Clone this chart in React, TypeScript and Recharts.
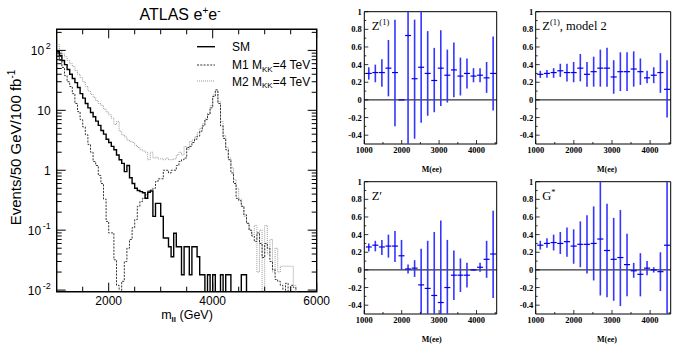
import React from 'react';
import {
  ComposedChart, Line, XAxis, YAxis, ReferenceArea, ReferenceLine,
  ScatterChart, Scatter, ErrorBar,
} from 'recharts';

// ---------------- Left panel: invariant-mass histograms (50 GeV bins) ----------------
const massEdges = [
  1000, 1050, 1100, 1150, 1200, 1250, 1300, 1350, 1400, 1450,
  1500, 1550, 1600, 1650, 1700, 1750, 1800, 1850, 1900, 1950,
  2000, 2050, 2100, 2150, 2200, 2250, 2300, 2350, 2400, 2450,
  2500, 2550, 2600, 2650, 2700, 2750, 2800, 2850, 2900, 2950,
  3000, 3050, 3100, 3150, 3200, 3250, 3300, 3350, 3400, 3450,
  3500, 3550, 3600, 3650, 3700, 3750, 3800, 3850, 3900, 3950,
  4000, 4050, 4100, 4150, 4200, 4250, 4300, 4350, 4400, 4450,
  4500, 4550, 4600, 4650, 4700, 4750, 4800, 4850, 4900, 4950,
  5000, 5050, 5100, 5150, 5200, 5250, 5300, 5350, 5400, 5450,
  5500, 5550, 5600, 5650,
];

const smEvents = [
  95, 82, 68, 58, 48, 40, 34, 29, 24, 19,
  16, 13, 11, 9.2, 7.8, 6.6, 5.6, 4.6, 4.0, 3.3,
  2.9, 2.5, 2.2, 1.8, 1.5, 1.3, 0.95, 1.2, 0.75, 0.6,
  0.5, 0.46, 0.44, 0.42, 0.34, 0.43, 0.45, 0.17, 0.28, 0.28,
  0.17, 0.074, 0.074, 0.053, 0.036, 0.089, 0.053, 0.053, 0.018, 0.053,
  0.053, 0.018, 0.053, 0.053, 0.036, 0.018, 0.018, 0, 0.018, 0,
  0.018, 0, 0, 0.018, 0, 0.018, 0.018, 0, 0, 0,
  0, 0.018, 0.018, 0, 0, 0, 0, 0, 0, 0,
  0, 0, 0, 0, 0, 0, 0, 0, 0, 0,
  0, 0, 0,
];

const m1Events = [
  80, 68, 52, 38, 30, 25, 19, 13, 9.5, 7.0,
  5.3, 3.9, 2.7, 2.0, 1.4, 1.2, 0.82, 0.6, 0.33, 0.14,
  0.09, 0.09, 0.032, 0.012, 0, 0.014, 0.03, 0.05, 0.07, 0.11,
  0.15, 0.25, 0.3, 0.34, 0.39, 0.45, 0.47, 0.5, 0.65, 0.72,
  0.72, 1.0, 1.0, 0.9, 1.0, 1.0, 1.2, 1.4, 1.5, 1.6,
  2.4, 2.5, 2.9, 3.3, 3.7, 4.5, 5.5, 7.0, 8.5, 11,
  17, 22, 13, 5.5, 3.4, 2.2, 1.5, 0.9, 0.6, 0.34,
  0.31, 0.25, 0.18, 0.13, 0.1, 0.08, 0.065, 0.09, 0.06, 0.035,
  0.06, 0.05, 0.03, 0.022, 0.015, 0.014, 0.012, 0.009, 0.013, 0.008,
  0.012, 0.011, 0,
];

const m2Events = [
  125, 100, 88, 78, 68, 60, 54, 46, 40, 35,
  30, 25, 21, 18.5, 16.5, 14.5, 13, 12, 10.5, 9.4,
  8.4, 7.4, 5.8, 6.5, 4.5, 3.9, 3.6, 3.2, 3.0, 2.9,
  2.6, 2.4, 2.2, 2.1, 2.0, 1.5, 2.0, 1.6, 1.65, 1.55,
  1.55, 1.5, 1.6, 1.5, 1.5, 1.55, 1.8, 2.0, 1.8, 2.5,
  2.2, 3.0, 3.2, 3.6, 4.2, 5.0, 6.0, 7.2, 9.0, 12,
  18, 21, 14, 6.5, 3.8, 2.4, 1.6, 1.1, 0.7, 0.5,
  0.33, 0.25, 0.17, 0.13, 0.1, 0.085, 0.12, 0.02, 0.1, 0,
  0.12, 0.04, 0.07, 0.02, 0.05, 0.02, 0.025, 0.025, 0.025, 0.025,
  0.025, 0.012, 0,
];

const massMajorTicks = [2000, 4000, 6000];
const massMinorTicks = [1500, 2500, 3000, 3500, 4500, 5000, 5500];
const eventMajorTicks = [0.01, 0.1, 1, 10, 100];
const eventMinorTicks = [
  0.02, 0.03, 0.04, 0.05, 0.06, 0.07, 0.08, 0.09,
  0.2, 0.3, 0.4, 0.5, 0.6, 0.7, 0.8, 0.9,
  2, 3, 4, 5, 6, 7, 8, 9,
  20, 30, 40, 50, 60, 70, 80, 90,
  200,
];
const eventTickLabels: Record<string, [string, string]> = {
  '100': ['10', '2'],
  '10': ['10', ''],
  '1': ['1', ''],
  '0.1': ['10', '-1'],
  '0.01': ['10', '-2'],
};

// ---------------- Right panels: asymmetry vs M(ee) ----------------
const asymMass = [1120, 1295, 1470, 1645, 1820, 1995, 2170, 2345, 2520, 2695,
  2870, 3045, 3220, 3395, 3570, 3745, 3920, 4095, 4270, 4445];
const massBinHalfWidth = 80;

const z1Center = [0.30, 0.31, 0.31, 0.36, 0.31, 0.0, 0.73, 0.24, 0.37, 0.30,
  0.22, 0.36, 0.28, 0.34, 0.27, 0.30, 0.27, 0.28, 0.25, 0.30];
const z1Low = [0.23, 0.20, 0.15, 0.04, -0.30, 0.0, -0.6, -0.44, -0.26, -0.18,
  -0.14, -0.07, -0.03, 0.03, 0.05, 0.13, 0.20, 0.20, 0.08, -0.12];
const z1High = [0.37, 0.40, 0.46, 0.68, 0.91, 0.0, 1.1, 0.91, 1.1, 0.78,
  0.59, 0.79, 0.57, 0.65, 0.48, 0.47, 0.36, 0.36, 0.43, 0.72];

const z1m2Center = [0.29, 0.30, 0.31, 0.33, 0.31, 0.31, 0.36, 0.29, 0.32, 0.36,
  0.36, 0.26, 0.32, 0.32, 0.35, 0.32, 0.25, 0.28, 0.31, 0.12];
const z1m2Low = [0.25, 0.25, 0.25, 0.26, 0.21, 0.20, 0.21, 0.15, 0.15, 0.15,
  0.15, 0.07, 0.10, 0.10, 0.15, 0.17, 0.19, 0.19, 0.08, -0.20];
const z1m2High = [0.33, 0.34, 0.36, 0.41, 0.41, 0.43, 0.52, 0.43, 0.49, 0.57,
  0.59, 0.45, 0.54, 0.54, 0.55, 0.47, 0.33, 0.37, 0.53, 0.45];

const zpCenter = [0.26, 0.28, 0.26, 0.27, 0.27, 0.16, 0.01, 0.02, -0.17, -0.21,
  -0.29, -0.37, -0.20, -0.06, -0.06, -0.06, 0.0, 0.03, 0.12, 0.18];
const zpLow = [0.21, 0.21, 0.17, 0.14, 0.09, 0.0, -0.04, -0.08, -0.6, -0.6,
  -0.6, -0.6, -0.6, -0.34, -0.25, -0.20, -0.01, -0.02, -0.09, -0.32];
const zpHigh = [0.30, 0.33, 0.34, 0.40, 0.44, 0.34, 0.06, 0.11, 0.24, 0.33,
  0.43, 0.56, 0.34, 0.22, 0.13, 0.08, 0.01, 0.08, 0.33, 0.67];

const gCenter = [0.28, 0.30, 0.31, 0.30, 0.32, 0.27, 0.29, 0.29, 0.30, 0.35,
  0.22, 0.12, 0.14, 0.06, -0.01, -0.05, 0.02, 0.0, -0.02, 0.28];
const gLow = [0.23, 0.25, 0.22, 0.18, 0.15, 0.07, 0.03, -0.04, -0.12, -0.29,
  -0.31, -0.35, -0.41, -0.30, -0.09, -0.30, -0.06, -0.03, -0.24, -0.6];
const gHigh = [0.33, 0.36, 0.40, 0.43, 0.48, 0.46, 0.55, 0.62, 0.72, 1.1,
  0.75, 0.59, 0.68, 0.41, 0.08, 0.19, 0.10, 0.03, 0.20, 1.1];

const asymMajorTicks = [-0.4, -0.2, 0, 0.2, 0.4, 0.6, 0.8, 1];
const asymTickLabels = ['-0.4', '-0.2', '0', '0.2', '0.4', '0.6', '0.8', '1'];
const asymMinorTicks = [-0.3, -0.1, 0.1, 0.3, 0.5, 0.7, 0.9];
const panelMassMajor = [1000, 2000, 3000, 4000];
const panelMassMinor = [1500, 2500, 3500, 4500];

// ---------------- styling / layout ----------------
const NARROW = "'Liberation Sans Narrow', 'Liberation Sans', Arial, sans-serif";
const SANS = "'Liberation Sans', Arial, sans-serif";
const SERIF = "'Liberation Serif', 'Times New Roman', serif";
const TM = 6;

const EMPTY = 1e-4;
const pos = (v: number) => (v > 0 ? v : EMPTY);
const histData = massEdges.map((m, i) => {
  const j = Math.min(i, smEvents.length - 1);
  return { m, sm: pos(smEvents[j]), m1: pos(m1Events[j]), m2: pos(m2Events[j]) };
});

const L = { width: 330, height: 330, mTop: 29.3, mRight: 13.3, yW: 56.7, xH: 38.3 };
const LPW = L.width - L.yW - L.mRight;
const LPH = L.height - L.mTop - L.xH;
const Y_DOMAIN: [number, number] = [0.0094, 225];

const LeftXTick = (p: any) => {
  const { x, y, payload } = p;
  const axisY = y - TM;
  const v = payload.value;
  const major = massMajorTicks.includes(v);
  const len = major ? 9 : 5;
  return (
    <g>
      <line x1={x} x2={x} y1={axisY} y2={axisY - len} stroke="#000" strokeWidth={1} />
      <line x1={x} x2={x} y1={axisY - LPH} y2={axisY - LPH + len} stroke="#000" strokeWidth={1} />
      {major && (
        <text x={x} y={axisY + 13.5} textAnchor="middle" fontSize={12} fontFamily={NARROW} fill="#000">{v}</text>
      )}
    </g>
  );
};

const LeftYTick = (p: any) => {
  const { x, y, payload } = p;
  const axisX = x + TM;
  const v = payload.value;
  const lab = eventTickLabels[String(v)];
  const len = lab ? 9 : 5;
  return (
    <g>
      <line x1={axisX} x2={axisX + len} y1={y} y2={y} stroke="#000" strokeWidth={1} />
      <line x1={axisX + LPW} x2={axisX + LPW - len} y1={y} y2={y} stroke="#000" strokeWidth={1} />
      {lab && (
        <text x={axisX - 6} y={y + 5} textAnchor="end" fontSize={12} fontFamily={NARROW} fill="#000">
          {lab[0]}
          {lab[1] && <tspan dx={1.5} dy={-6} fontSize={9}>{lab[1]}</tspan>}
        </text>
      )}
    </g>
  );
};

function LeftChart() {
  return (
    <ComposedChart
      width={L.width}
      height={L.height}
      data={histData}
      margin={{ top: L.mTop, right: L.mRight, bottom: 0, left: 0 }}
    >
      <XAxis
        dataKey="m" type="number" domain={[1000, 6000]} allowDataOverflow
        ticks={[...massMajorTicks, ...massMinorTicks]} interval={0}
        tickSize={0} tickMargin={TM} tick={LeftXTick} axisLine={false} height={L.xH}
      />
      <YAxis
        type="number" scale="log" domain={Y_DOMAIN} allowDataOverflow
        ticks={[...eventMajorTicks, ...eventMinorTicks]} interval={0}
        tickSize={0} tickMargin={TM} tick={LeftYTick} axisLine={false} width={L.yW}
      />
      <ReferenceArea x1={1000} x2={6000} y1={Y_DOMAIN[0]} y2={Y_DOMAIN[1]} fill="none" stroke="#000" strokeWidth={1.4} />
      <Line dataKey="m2" type="stepAfter" stroke="#9a9a9a" strokeWidth={1} strokeDasharray="1 1" dot={false} isAnimationActive={false} />
      <Line dataKey="m1" type="stepAfter" stroke="#333" strokeWidth={1} strokeDasharray="2 1.3" dot={false} isAnimationActive={false} />
      <Line dataKey="sm" type="stepAfter" stroke="#000" strokeWidth={1.4} dot={false} isAnimationActive={false} />
    </ComposedChart>
  );
}

// ---------------- asymmetry panels ----------------
const P = { width: 175, height: 175, mTop: 11.7, xH: 31 };
const P_X_DOMAIN: [number, number] = [1000, 4540];
const P_Y_DOMAIN: [number, number] = [-0.5, 1];

const PanelXTick = (p: any) => {
  const { x, y, payload } = p;
  const axisY = y - TM;
  const v = payload.value;
  const major = panelMassMajor.includes(v);
  return (
    <g>
      <line x1={x} x2={x} y1={axisY} y2={axisY - (major ? 4 : 2)} stroke="#000" strokeWidth={0.8} />
      {major && (
        <text x={x} y={axisY + 9} textAnchor="middle" fontSize={8.5} fontWeight="bold" fontFamily={SERIF} fill="#000">{v}</text>
      )}
    </g>
  );
};

const PanelYTick = (p: any) => {
  const { x, y, payload } = p;
  const axisX = x + TM;
  const v = payload.value;
  const idx = asymMajorTicks.indexOf(v);
  return (
    <g>
      <line x1={axisX} x2={axisX + (idx >= 0 ? 4 : 2)} y1={y} y2={y} stroke="#000" strokeWidth={0.8} />
      {idx >= 0 && (
        <text x={axisX - 2.5} y={y + 3} textAnchor="end" fontSize={8.5} fontWeight="bold" fontFamily={SERIF} fill="#000">{asymTickLabels[idx]}</text>
      )}
    </g>
  );
};

// error bars are cut at the frame, as in the original plot
const panelRows = (c: number[], lo: number[], hi: number[]) =>
  asymMass.map((x, i) => {
    const low = Math.max(lo[i], P_Y_DOMAIN[0]);
    const high = Math.min(hi[i], P_Y_DOMAIN[1]);
    return {
      x,
      y: c[i],
      ey: [c[i] - low, high - c[i]],
      ex: [massBinHalfWidth, massBinHalfWidth],
    };
  });

function AsymPanel({ left, top, yW, mRight, rows }: { left: number; top: number; yW: number; mRight: number; rows: any[] }) {
  return (
    <div style={{ position: 'absolute', left, top, width: P.width, height: P.height }}>
      <ScatterChart width={P.width} height={P.height} margin={{ top: P.mTop, right: mRight, bottom: 0, left: 0 }}>
        <XAxis
          dataKey="x" type="number" domain={P_X_DOMAIN} allowDataOverflow
          ticks={[...panelMassMajor, ...panelMassMinor]} interval={0}
          tickSize={0} tickMargin={TM} tick={PanelXTick} axisLine={false} height={P.xH}
        />
        <YAxis
          dataKey="y" type="number" domain={P_Y_DOMAIN} allowDataOverflow
          ticks={[...asymMajorTicks, ...asymMinorTicks]} interval={0}
          tickSize={0} tickMargin={TM} tick={PanelYTick} axisLine={false} width={yW}
        />
        <ReferenceArea x1={P_X_DOMAIN[0]} x2={P_X_DOMAIN[1]} y1={P_Y_DOMAIN[0]} y2={P_Y_DOMAIN[1]} fill="none" stroke="#000" strokeWidth={1} />
        <ReferenceLine y={0} stroke="#000" strokeWidth={1} />
        <Scatter data={rows} isAnimationActive={false} shape={() => <g />}>
          <ErrorBar dataKey="ey" direction="y" width={0} stroke="#3535ff" strokeWidth={1.6} />
          <ErrorBar dataKey="ex" direction="x" width={0} stroke="#0000e6" strokeWidth={1.2} />
        </Scatter>
      </ScatterChart>
    </div>
  );
}

export default function App() {
  return (
    <div style={{ position: 'absolute', left: 0, top: 0, width: 691, height: 350, background: '#fff' }}>
      <div style={{ position: 'absolute', left: 0, top: 0, width: L.width, height: L.height }}>
        <LeftChart />
      </div>
      <AsymPanel left={330} top={0} yW={34.3} mRight={8.3} rows={panelRows(z1Center, z1Low, z1High)} />
      <AsymPanel left={505} top={0} yW={30.7} mRight={9.3} rows={panelRows(z1m2Center, z1m2Low, z1m2High)} />
      <AsymPanel left={330} top={170} yW={34.3} mRight={8.3} rows={panelRows(zpCenter, zpLow, zpHigh)} />
      <AsymPanel left={505} top={170} yW={30.7} mRight={9.3} rows={panelRows(gCenter, gLow, gHigh)} />

      <svg width={691} height={350} style={{ position: 'absolute', left: 0, top: 0, pointerEvents: 'none' }}>
        {/* left panel texts */}
        <text x={180} y={20} textAnchor="middle" fontSize={16} fontFamily={NARROW} fill="#000">
          ATLAS e<tspan dy={-6} fontSize={10}>+</tspan><tspan dy={6}>e</tspan><tspan dy={-6} fontSize={10}>-</tspan>
        </text>
        <text transform="translate(21,147.5) rotate(-90)" textAnchor="middle" fontSize={15} fontFamily={SANS} fill="#000">
          Events/50 GeV/100 fb<tspan dy={-6} fontSize={10}>-1</tspan>
        </text>
        <text x={187} y={319} textAnchor="middle" fontSize={12.5} fontFamily={SANS} fill="#000">
          m<tspan dy={3} fontSize={8} fontWeight="bold">ll</tspan><tspan dy={-3}> (GeV)</tspan>
        </text>
        {/* legend */}
        <line x1={197} x2={215} y1={46.7} y2={46.7} stroke="#000" strokeWidth={1.4} />
        <line x1={197} x2={215} y1={65} y2={65} stroke="#333" strokeWidth={1} strokeDasharray="2 1.3" />
        <line x1={197} x2={215} y1={81} y2={81} stroke="#9a9a9a" strokeWidth={1} strokeDasharray="1 1" />
        <text x={232} y={51} fontSize={12} fontFamily={NARROW} fill="#000">SM</text>
        <text x={232} y={69} fontSize={12} fontFamily={NARROW} fill="#000">
          M1 M<tspan dy={2.5} fontSize={8}>KK</tspan><tspan dy={-2.5}>=4 TeV</tspan>
        </text>
        <text x={232} y={85.5} fontSize={12} fontFamily={NARROW} fill="#000">
          M2 M<tspan dy={2.5} fontSize={8}>KK</tspan><tspan dy={-2.5}>=4 TeV</tspan>
        </text>

        {/* asymmetry panel titles */}
        <text x={371.7} y={30} fontSize={12.5} fontFamily={SERIF} fill="#000">
          Z<tspan dy={-5} fontSize={8.5}>(1)</tspan>
        </text>
        <text x={542.3} y={30} fontSize={12.5} fontFamily={SERIF} fill="#000">
          Z<tspan dy={-5} fontSize={8.5}>(1)</tspan><tspan dy={5}>, model 2</tspan>
        </text>
        <text x={371.7} y={200} fontSize={12.5} fontFamily={SERIF} fill="#000">Z′</text>
        <text x={542.3} y={200} fontSize={12.5} fontFamily={SERIF} fill="#000">
          G<tspan dy={-5} fontSize={8.5}>*</tspan>
        </text>
        {/* M(ee) axis titles */}
        <text x={431.7} y={171.5} textAnchor="middle" fontSize={8} fontWeight="bold" fontFamily={SERIF} fill="#000">M(ee)</text>
        <text x={607} y={171.5} textAnchor="middle" fontSize={8} fontWeight="bold" fontFamily={SERIF} fill="#000">M(ee)</text>
        <text x={431.7} y={341.5} textAnchor="middle" fontSize={8} fontWeight="bold" fontFamily={SERIF} fill="#000">M(ee)</text>
        <text x={607} y={341.5} textAnchor="middle" fontSize={8} fontWeight="bold" fontFamily={SERIF} fill="#000">M(ee)</text>
      </svg>
    </div>
  );
}
